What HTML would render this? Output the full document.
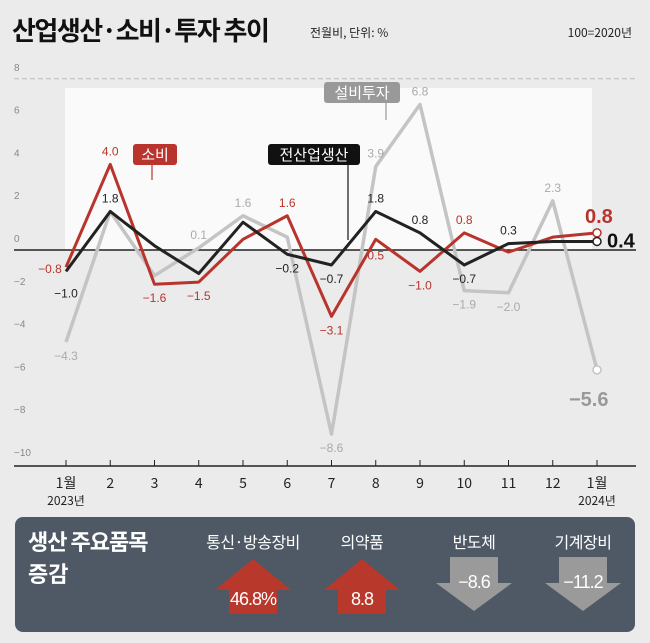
<!DOCTYPE html>
<html><head><meta charset="utf-8"><style>
body{margin:0;background:#ebebeb;font-family:"Liberation Sans","Noto Sans CJK KR",sans-serif;}
#wrap{position:relative;width:650px;height:643px;overflow:hidden;background:#ebebeb}
</style></head><body>
<div id="wrap">
<svg id="chart" width="650" height="643" style="position:absolute;left:0;top:0">
<text x="12" y="40" font-size="26" font-weight="bold" fill="#111" letter-spacing="-1.5" font-family="Noto Sans CJK KR, sans-serif">산업생산·소비·투자 추이</text>
<text x="310" y="37" font-size="12" fill="#222" font-family="Noto Sans CJK KR, sans-serif">전월비, 단위: %</text>
<text x="632" y="37" font-size="12" fill="#222" text-anchor="end" font-family="Noto Sans CJK KR, sans-serif">100=2020년</text>
<rect x="65" y="88" width="527" height="162" fill="#fafafa"/>
<g id="grid"></g><g id="lines"></g><g id="labels"></g>
<rect x="15" y="517" width="620" height="115" rx="8" fill="#4e5965"/>
<text x="28" y="550" font-size="22" font-weight="bold" fill="#fff" letter-spacing="-1" font-family="Noto Sans CJK KR, sans-serif">생산 주요품목</text>
<text x="28" y="582" font-size="22" font-weight="bold" fill="#fff" font-family="Noto Sans CJK KR, sans-serif">증감</text>
<g id="items"></g>
</svg>
</div>
<script>
const months=["1월","2","3","4","5","6","7","8","9","10","11","12","1월"];
const yTicks=[8,6,4,2,0,-2,-4,-6,-8,-10];
const consumption=[-0.8,4.0,-1.6,-1.5,0.5,1.6,-3.1,0.5,-1.0,0.8,-0.1,0.6,0.8];
const production=[-1.0,1.8,0.2,-1.1,1.3,-0.2,-0.7,1.8,0.8,-0.7,0.3,0.4,0.4];
const investment=[-4.3,1.8,-1.2,0.1,1.6,0.6,-8.6,3.9,6.8,-1.9,-2.0,2.3,-5.6];
const itemNames=["통신·방송장비","의약품","반도체","기계장비"];
const itemValues=[46.8,8.8,-8.6,-11.2];
const NS="http://www.w3.org/2000/svg";
const xs=i=>66+i*44.25, ys=v=>250-v*21.4;
function mk(p,t,a){const e=document.createElementNS(NS,t);for(const k in a)e.setAttribute(k,a[k]);p.appendChild(e);return e;}
const grid=document.getElementById('grid'),lines=document.getElementById('lines'),labels=document.getElementById('labels');
yTicks.forEach(v=>{const t=mk(grid,'text',{x:14,y:ys(v)-8,'font-size':10,fill:'#888'});t.textContent=v<0?'−'+(-v):v;

});
let l=mk(grid,'line',{x1:14,x2:636,y1:ys(8),y2:ys(8),stroke:'#bbb','stroke-dasharray':'5,3'});


l=mk(grid,'line',{x1:14,x2:636,y1:ys(0),y2:ys(0),stroke:'#222','stroke-width':1.5});


l=mk(grid,'line',{x1:14,x2:636,y1:ys(-10)+2,y2:ys(-10)+2,stroke:'#222','stroke-width':1.5});


months.forEach((m,i)=>{const tk=mk(grid,'line',{x1:xs(i),x2:xs(i),y1:ys(-10)-4,y2:ys(-10)+2,stroke:'#222'});


const t=mk(grid,'text',{x:xs(i),y:488,'font-size':14,'text-anchor':'middle',fill:'#222','font-family':'Noto Sans CJK KR, sans-serif'});t.textContent=m;

});
[[0,'2023년'],[12,'2024년']].forEach(([i,s])=>{const t=mk(grid,'text',{x:xs(i),y:505,'font-size':12,'text-anchor':'middle',fill:'#222','font-family':'Noto Sans CJK KR, sans-serif'});t.textContent=s;

});
function series(d,c,w,name){const p=mk(lines,'polyline',{points:d.map((v,i)=>xs(i)+','+ys(v)).join(' '),fill:'none',stroke:c,'stroke-width':w,'stroke-linejoin':'round'});


const c2=mk(lines,'circle',{cx:xs(12),cy:ys(d[12]),r:4,fill:'#fff',stroke:c,'stroke-width':1.5});

}
series(investment,'#c4c4c4',3.5,'investment-line');
series(consumption,'#b8342c',3,'consumption-line');
series(production,'#222',3,'production-line');
function lab(d,i,c,up,dx,dy){const v=d[i];const t=mk(labels,'text',{x:xs(i)+(dx||0),y:ys(v)+(up?-9:18)+(dy||0),'font-size':12,'text-anchor':'middle',fill:c});
t.textContent=v<0?'−'+(-v).toFixed(1):v.toFixed(1);

}
[[0,1,-16,15],[1,1],[2,0],[3,0],[5,1],[6,0],[7,0,0,2],[8,0],[9,1]].forEach(([i,u,dx,dy])=>lab(consumption,i,'#b8342c',u,dx,dy));
[[0,0,0,8],[1,1],[5,0],[6,0],[7,1],[8,1],[9,0],[10,1]].forEach(([i,u,dx,dy])=>lab(production,i,'#222',u,dx,dy));
[[0,0],[3,1],[4,1],[6,0],[7,1],[8,1],[9,0],[10,0],[11,1]].forEach(([i,u])=>lab(investment,i,'#aaa',u));
(function(){let t=mk(labels,'text',{x:xs(12)-12,y:ys(consumption[12])-10,'font-size':20,'font-weight':'bold',fill:'#b8342c'});t.textContent=consumption[12].toFixed(1);

t=mk(labels,'text',{x:xs(12)+10,y:ys(production[12])+6,'font-size':20,'font-weight':'bold',fill:'#111'});t.textContent=production[12].toFixed(1);

t=mk(labels,'text',{x:xs(12)-28,y:ys(investment[12])+36,'font-size':20,'font-weight':'bold',fill:'#999'});t.textContent='−'+(-investment[12]).toFixed(1);
})();
function tag(x,y,w,txt,bg,name,lx,ly){mk(labels,'line',{x1:lx,y1:y+20,x2:lx,y2:ly,stroke:bg=='#111'?'#111':bg,'stroke-width':1.2});
const r=mk(labels,'rect',{x:x,y:y,width:w,height:21,rx:3,fill:bg});

const t=mk(labels,'text',{x:x+w/2,y:y+16,'font-size':15,'text-anchor':'middle',fill:'#fff','font-family':'Noto Sans CJK KR, sans-serif'});t.textContent=txt;
}
tag(133,144,44,'소비','#b8342c','consumption-tag',152,180);
tag(268,144,92,'전산업생산','#111','production-tag',348,240);
tag(324,82,76,'설비투자','#999','investment-tag',386,120);
const items=document.getElementById('items');
const ix=[253,362,474,583];
itemNames.forEach((n,i)=>{const x=ix[i];const t=mk(items,'text',{x:x,y:548,'font-size':16,'text-anchor':'middle',fill:'#fff','letter-spacing':'-0.5','font-family':'Noto Sans CJK KR, sans-serif'});t.textContent=n;

const v=itemValues[i],up=v>0;const c=up?'#b8392b':'#9a9a9a';
const pts=up?[[x,559],[x+38,590],[x+24,590],[x+24,614],[x-24,614],[x-24,590],[x-38,590]]:[[x-24,557],[x+24,557],[x+24,583],[x+38,583],[x,611],[x-38,583],[x-24,583]];
const a=mk(items,'polygon',{points:pts.map(p=>p.join(',')).join(' '),fill:c});

const vt=mk(items,'text',{x:x,y:up?605:588,'font-size':18,'text-anchor':'middle',fill:'#fff','letter-spacing':'-1'});vt.textContent=(v<0?'−'+(-v):v.toFixed(1))+(i==0?'%':'');
});
</script>
</body></html>
